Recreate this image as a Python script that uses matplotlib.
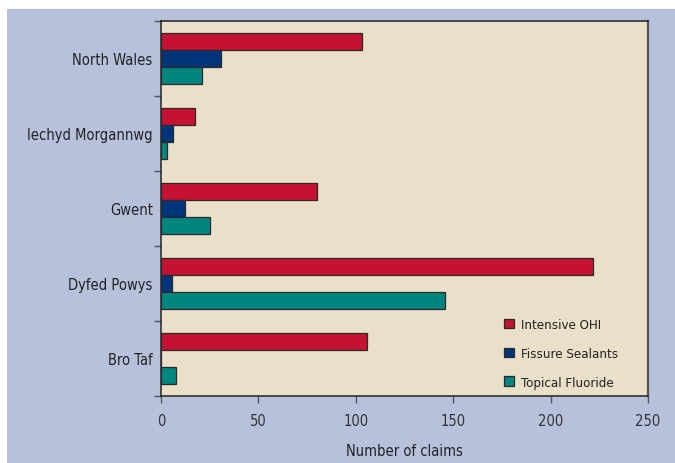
import numpy as np
import matplotlib.pyplot as plt
from matplotlib.patches import Rectangle
from matplotlib.ticker import FixedLocator, NullFormatter

regions = ["North Wales", "Iechyd Morgannwg", "Gwent", "Dyfed Powys", "Bro Taf"]
intensive_ohi = [103, 17.5, 80, 222, 106]
fissure_sealants = [31, 6, 12.5, 5.5, 0]
topical_fluoride = [21, 3, 25, 146, 7.5]

series = [
    ("Intensive OHI", intensive_ohi, "#C41230"),
    ("Fissure Sealants", fissure_sealants, "#00357A"),
    ("Topical Fluoride", topical_fluoride, "#00857F"),
]

plt.rcParams['font.family'] = ['DejaVu Sans']
plt.rcParams['font.stretch'] = 'condensed'

fig = plt.figure(figsize=(6.75, 4.64), dpi=100, facecolor="white")
# panel background, leaving a thin white margin top and left
fig.patches.append(Rectangle((7 / 675, 0), 1, 1 - 10 / 464, transform=fig.transFigure,
                             facecolor="#B8C1DB", edgecolor="none", zorder=-10))

ax = fig.add_axes([161 / 675, 1 - 397 / 464, 487 / 675, 375 / 464])
ax.set_facecolor("#EADFC8")

h = 0.227
y = np.arange(len(regions))
for k, (name, vals, col) in enumerate(series):
    ax.barh(y + (k - 1) * h, vals, height=h, color=col, edgecolor="#2A2A2A",
            linewidth=0.9, label=name, zorder=3)

ax.set_xlim(0, 250)
ax.set_ylim(len(regions) - 0.5, -0.5)
ax.set_xticks([0, 50, 100, 150, 200, 250])
ax.set_yticks(y)
ax.set_yticklabels(regions)
ax.yaxis.set_minor_locator(FixedLocator(np.arange(-0.5, len(regions), 1.0)))
ax.yaxis.set_minor_formatter(NullFormatter())
ax.tick_params(axis="y", which="major", length=0, pad=6, labelsize=10.5, labelcolor="#222222")
ax.tick_params(axis="y", which="minor", length=5, width=1, color="#555555")
ax.tick_params(axis="x", length=5, width=1, color="#555555", labelsize=10.5,
               labelcolor="#333333", pad=7)

for s in ax.spines.values():
    s.set_color("#222222")
    s.set_linewidth(1.1)
ax.spines["right"].set_color("#555555")
ax.spines["right"].set_linewidth(1.6)

ax.set_xlabel("Number of claims", fontsize=10.5, color="#222222", labelpad=11)

leg = ax.legend(loc="upper left", bbox_to_anchor=(0.69, 0.225), frameon=False,
                borderpad=0, fontsize=9.5, handlelength=0.75, handleheight=0.75,
                labelspacing=1.2, handletextpad=0.6)
for t in leg.get_texts():
    t.set_color("#222222")

fig.savefig("out.png", dpi=100, facecolor=fig.get_facecolor())
